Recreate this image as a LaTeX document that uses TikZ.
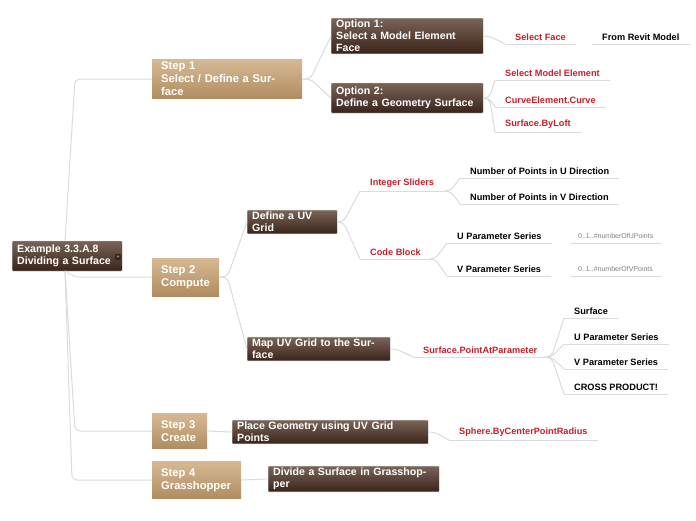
\documentclass[tikz,border=0pt]{standalone}
\usepackage{fontspec}
\setmainfont{Liberation Sans}
\definecolor{dtop}{RGB}{122,100,88}
\definecolor{dbot}{RGB}{58,36,26}
\definecolor{ttop}{RGB}{214,186,148}
\definecolor{tbot}{RGB}{176,140,96}
\definecolor{rtx}{RGB}{200,30,40}
\begin{document}
\begin{tikzpicture}[x=1pt,y=-1pt,
  conn/.style={draw=black!14,line width=1pt,rounded corners=5},
  dbox/.style={anchor=west,top color=dtop,bottom color=dbot,
     text=white,font=\bfseries\fontsize{10.6}{12}\selectfont,align=left,inner xsep=5pt,inner ysep=2pt,
     draw=black!20,line width=0.4pt,rounded corners=0.8pt},
  tbox/.style={anchor=west,top color=ttop,bottom color=tbot,
     text=white,font=\bfseries\fontsize{11.2}{13}\selectfont,align=left,inner xsep=9pt,inner ysep=3pt},
  rl/.style={anchor=south west,text=rtx,font=\bfseries\fontsize{9.2}{10}\selectfont,inner xsep=10pt,inner ysep=3.5pt},
  bl/.style={anchor=south west,text=black,font=\bfseries\fontsize{9.2}{10}\selectfont,inner xsep=10pt,inner ysep=3.5pt},
  gl/.style={anchor=south west,text=black!50,font=\fontsize{7}{7}\selectfont,inner xsep=8pt,inner ysep=4pt}]
\useasboundingbox (0,0) rectangle (696,520);
% boxes
\node[dbox,text width=100,minimum height=30] (root) at (12,256) {Example 3.3.A.8\\Dividing a Surface};
\node[fill=dbot,text=white,font=\fontsize{5}{5}\selectfont,inner sep=1.5pt,rounded corners=1pt] (ic) at (118,257) {+};
\node[tbox,text width=132,minimum height=38] (s1) at (152,79) {Step 1\\Select / Define a Surface};
\node[tbox,text width=49,minimum height=38] (s2) at (152,277) {Step 2\\Compute};
\node[tbox,text width=37,minimum height=35] (s3) at (152,431) {Step 3\\Create};
\node[tbox,text width=71,minimum height=37] (s4) at (152,480) {Step 4\\Grasshopper};
\node[dbox,text width=142,minimum height=30] (o1) at (331,36) {Option 1:\\Select a Model Element Face};
\node[dbox,text width=142,minimum height=30] (o2) at (331,98) {Option 2:\\Define a Geometry Surface};
\node[dbox,text width=80,minimum height=20] (uv) at (247,222) {Define a UV Grid};
\node[dbox,text width=133,minimum height=19] (map) at (247,349) {Map UV Grid to the Surface};
\node[dbox,text width=186,minimum height=19] (pg) at (232,432) {Place Geometry using UV Grid Points};
\node[dbox,text width=161,minimum height=19] (dg) at (268,479) {Divide a Surface in Grasshopper};
% labels
\node[rl] (sf) at (505,44) {Select Face};
\node[bl] (frm) at (592,44) {From Revit Model};
\node[rl] (sme) at (495,80) {Select Model Element};
\node[rl] (cec) at (495,107) {CurveElement.Curve};
\node[rl] (sbl) at (495,132) {Surface.ByLoft};
\node[rl] (is) at (360,191) {Integer Sliders};
\node[rl] (cb) at (360,259) {Code Block};
\node[bl] (nu) at (460,178) {Number of Points in U Direction};
\node[bl] (nv) at (460,204) {Number of Points in V Direction};
\node[bl] (up) at (447,243) {U Parameter Series};
\node[bl] (vp) at (447,276) {V Parameter Series};
\node[gl] (ug) at (570,243) {0..1..\#numberOfUPoints};
\node[gl] (vg) at (570,276) {0..1..\#numberOfVPoints};
\node[rl] (spp) at (413,357) {Surface.PointAtParameter};
\node[bl] (su) at (564,318) {Surface};
\node[bl] (us) at (564,344) {U Parameter Series};
\node[bl] (vs) at (564,369) {V Parameter Series};
\node[bl] (cp) at (564,394) {CROSS PRODUCT!};
\node[rl] (sph) at (449,440) {Sphere.ByCenterPointRadius};
% underlines
\foreach \n in {sf,frm,sme,cec,sbl,is,cb,nu,nv,up,vp,ug,vg,spp,su,us,vs,cp,sph}
  \draw[conn,rounded corners=0] (\n.south west) -- (\n.south east);
% trunk
\coordinate (rt) at (65,241);
\coordinate (rb) at (65,271);
\draw[conn] (rt) -- (75,79) -- (s1.west);
\draw[conn] (rb) -- (75,277) -- (s2.west);
\draw[conn] (rb) -- (75,431) -- (s3.west);
\draw[conn] (rb) -- (72,480) -- (s4.west);
% step 1
\draw[conn] (s1.east) -- ++(8,0) -- (o1.west);
\draw[conn] (s1.east) -- ++(8,0) -- (o2.west);
\draw[conn] (o1.east) -- ++(6,0) -- (sf.south west);
\draw[conn] (o2.east) -- ++(6,0) -- (sme.south west);
\draw[conn] (o2.east) -- ++(6,0) -- (cec.south west);
\draw[conn] (o2.east) -- ++(6,0) -- (sbl.south west);
% step 2
\draw[conn] (s2.east) -- ++(8,0) -- (uv.west);
\draw[conn] (s2.east) -- ++(8,0) -- (map.west);
\draw[conn] (uv.east) -- ++(6,0) -- (is.south west);
\draw[conn] (uv.east) -- ++(6,0) -- (cb.south west);
\draw[conn] (is.south east) -- ++(6,0) -- (nu.south west);
\draw[conn] (is.south east) -- ++(6,0) -- (nv.south west);
\draw[conn] (cb.south east) -- ++(4,0) -- (up.south west);
\draw[conn] (cb.south east) -- ++(4,0) -- (vp.south west);
\draw[conn] (map.east) -- ++(6,0) -- (spp.south west);
\draw[conn] (spp.south east) -- ++(4,0) -- (su.south west);
\draw[conn] (spp.south east) -- ++(4,0) -- (us.south west);
\draw[conn] (spp.south east) -- ++(4,0) -- (vs.south west);
\draw[conn] (spp.south east) -- ++(4,0) -- (cp.south west);
% step 3/4
\draw[conn] (s3.east) -- (pg.west);
\draw[conn] (s4.east) -- (dg.west);
\draw[conn] (pg.east) -- ++(6,0) -- (sph.south west);
\end{tikzpicture}
\end{document}
